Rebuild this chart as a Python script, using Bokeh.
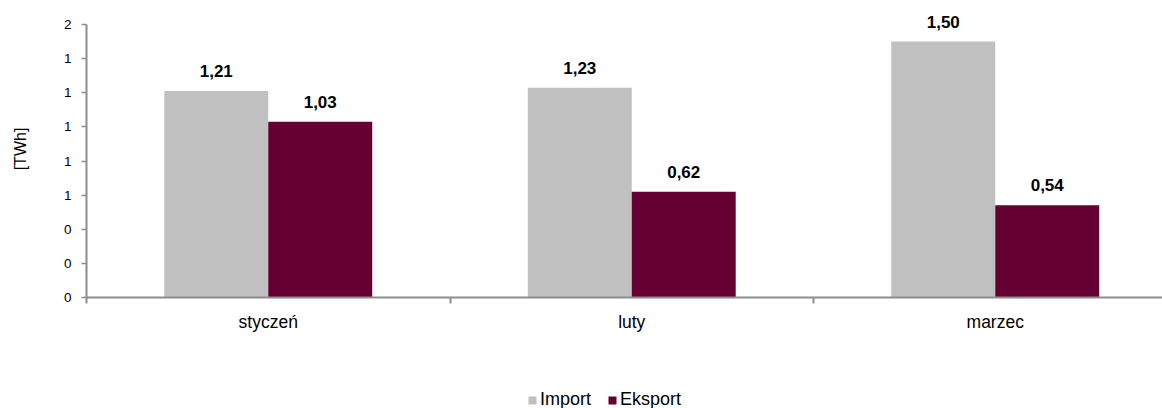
from bokeh.plotting import figure
from bokeh.models import ColumnDataSource, FixedTicker, Legend, LegendItem, LabelSet, Range1d
from bokeh.layouts import column
from bokeh.core.properties import value
from bokeh.embed import file_html
from bokeh.resources import INLINE

categories = ["styczeń", "luty", "marzec"]
series_names = ["Import", "Eksport"]
import_vals = [1.21, 1.23, 1.50]
eksport_vals = [1.03, 0.62, 0.54]
import_labels = ["1,21", "1,23", "1,50"]
eksport_labels = ["1,03", "0,62", "0,54"]
y_ticks = [0, 0.2, 0.4, 0.6, 0.8, 1.0, 1.2, 1.4, 1.6]
y_tick_labels = ["0", "0", "0", "1", "1", "1", "1", "1", "2"]

FONT = "Liberation Sans"
GRAY = "#C0C0C0"
MAROON = "#660033"
AXIS = "#8c8c8c"

centers = [i + 0.5 for i in range(len(categories))]
bw = 0.286
src_i = ColumnDataSource(dict(x=[c - bw / 2 for c in centers], top=import_vals, lab=import_labels))
src_e = ColumnDataSource(dict(x=[c + bw / 2 for c in centers], top=eksport_vals, lab=eksport_labels))

y_max = y_ticks[-1]
p = figure(width=1162, height=350, output_backend="svg", toolbar_location=None,
           x_range=Range1d(0, 1076 / 363.5), y_range=Range1d(0, y_max * 297 / 273),
           min_border_left=86, min_border_right=0, min_border_top=0, min_border_bottom=53)
p.outline_line_color = None
p.xgrid.visible = False
p.ygrid.visible = False

p.vbar(x="x", top="top", width=bw, source=src_i, fill_color=GRAY, line_color=None)
p.vbar(x="x", top="top", width=bw, source=src_e, fill_color=MAROON, line_color=None)

for src in (src_i, src_e):
    p.add_layout(LabelSet(x="x", y="top", text="lab", source=src, text_align="center",
                          text_baseline="alphabetic", y_offset=14, text_font=value(FONT),
                          text_font_size=value("17px"), text_font_style=value("bold"),
                          text_color=value("#000000")))

# x axis
p.xaxis.ticker = FixedTicker(ticks=centers, minor_ticks=[0, 1, 2, 3])
p.xaxis.major_label_overrides = {c: n for c, n in zip(centers, categories)}
p.xaxis.major_tick_out = 0
p.xaxis.major_tick_in = 0
p.xaxis.minor_tick_out = 6
p.xaxis.minor_tick_in = 0
p.xaxis.minor_tick_line_color = AXIS
p.xaxis.minor_tick_line_width = 2
p.xaxis.axis_line_color = AXIS
p.xaxis.axis_line_width = 2
p.xaxis.major_label_standoff = 8
p.xaxis.major_label_text_font = FONT
p.xaxis.major_label_text_font_size = "17.5px"
p.xaxis.major_label_text_color = "#000000"

# y axis
p.yaxis.bounds = (0, y_max)
p.yaxis.ticker = FixedTicker(ticks=y_ticks, minor_ticks=[])
p.yaxis.major_label_overrides = {t: l for t, l in zip(y_ticks, y_tick_labels)}
p.yaxis.major_tick_out = 5
p.yaxis.major_tick_in = 0
p.yaxis.major_tick_line_color = AXIS
p.yaxis.major_tick_line_width = 1.5
p.yaxis.axis_line_color = AXIS
p.yaxis.axis_line_width = 2
p.yaxis.major_label_standoff = 10
p.yaxis.major_label_text_font = FONT
p.yaxis.major_label_text_font_size = "13.5px"
p.yaxis.major_label_text_color = "#000000"
p.yaxis.axis_label = "[TWh]"
p.yaxis.axis_label_text_font = FONT
p.yaxis.axis_label_text_font_size = "16px"
p.yaxis.axis_label_text_font_style = "normal"
p.yaxis.axis_label_text_color = "#000000"
p.yaxis.axis_label_standoff = 32

# legend strip below the chart (same series, bars kept out of its view)
pl = figure(width=1162, height=58, output_backend="svg", toolbar_location=None,
            x_range=Range1d(0, 1), y_range=Range1d(10, 11),
            x_axis_location=None, y_axis_location=None,
            min_border_left=0, min_border_right=0, min_border_top=0, min_border_bottom=0)
pl.outline_line_color = None
pl.xgrid.visible = False
pl.ygrid.visible = False
li = pl.vbar(x="x", top="top", width=bw, source=src_i, fill_color=GRAY, line_color=None)
le = pl.vbar(x="x", top="top", width=bw, source=src_e, fill_color=MAROON, line_color=None)
legend = Legend(items=[LegendItem(label=series_names[0], renderers=[li]),
                       LegendItem(label=series_names[1], renderers=[le])],
                orientation="horizontal", location=(441, -2),
                glyph_width=10, glyph_height=10, label_text_font=FONT,
                label_text_font_size="18px", label_text_color="#000000",
                label_standoff=3, spacing=16, padding=0, margin=0,
                border_line_color=None, background_fill_alpha=0)
pl.add_layout(legend, "center")

layout = column(p, pl, spacing=0)
open("out.html", "w").write(file_html(layout, INLINE))
